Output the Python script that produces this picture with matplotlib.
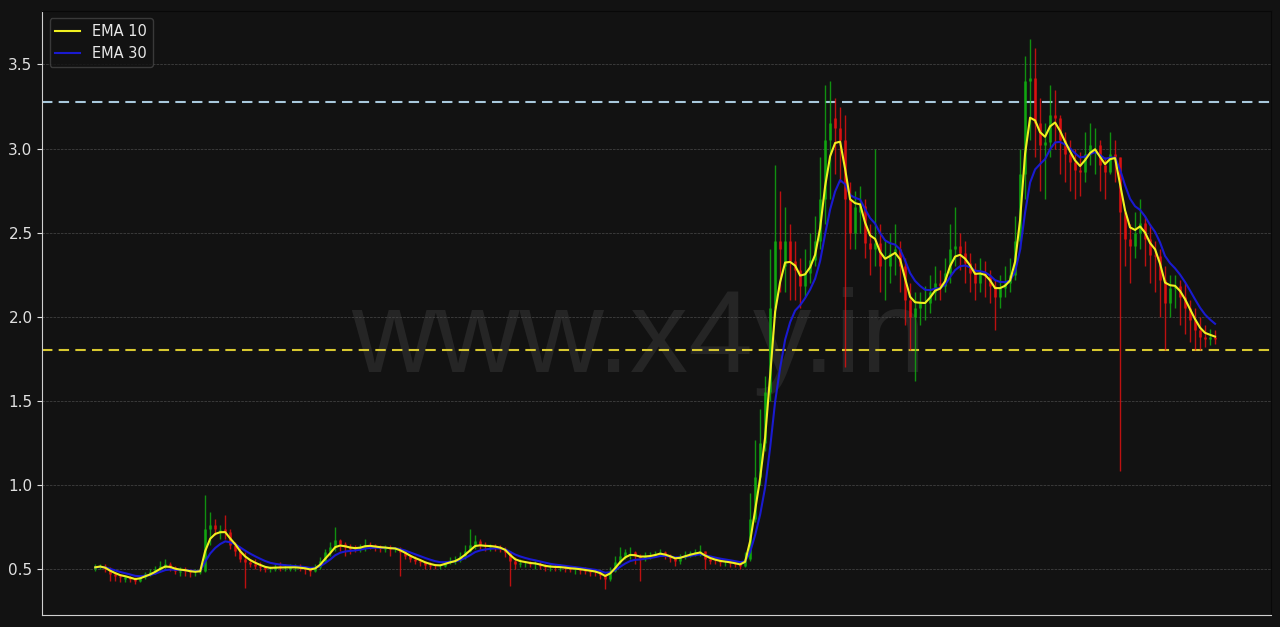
import pandas as pd
import matplotlib.pyplot as plt

# candle data (one bar per step)
closes = [0.51, 0.52, 0.50, 0.47, 0.46, 0.45, 0.45, 0.44, 0.43, 0.45,
          0.47, 0.48, 0.50, 0.52, 0.53, 0.51, 0.49, 0.49, 0.49, 0.48,
          0.48, 0.49, 0.74, 0.76, 0.74, 0.73, 0.72, 0.64, 0.61, 0.56,
          0.54, 0.53, 0.52, 0.51, 0.50, 0.50, 0.51, 0.51, 0.51, 0.51,
          0.51, 0.505, 0.50, 0.49, 0.51, 0.55, 0.60, 0.63, 0.67, 0.65,
          0.63, 0.62, 0.62, 0.63, 0.645, 0.64, 0.63, 0.625, 0.625, 0.62,
          0.62, 0.60, 0.58, 0.56, 0.55, 0.54, 0.525, 0.52, 0.515, 0.52,
          0.54, 0.55, 0.555, 0.58, 0.61, 0.64, 0.665, 0.645, 0.635, 0.635,
          0.63, 0.62, 0.60, 0.55, 0.53, 0.535, 0.535, 0.53, 0.53, 0.52,
          0.51, 0.51, 0.51, 0.51, 0.505, 0.50, 0.50, 0.495, 0.49, 0.485,
          0.48, 0.465, 0.44, 0.49, 0.54, 0.58, 0.60, 0.60, 0.58, 0.565,
          0.575, 0.58, 0.59, 0.60, 0.58, 0.565, 0.55, 0.57, 0.585, 0.595,
          0.60, 0.605, 0.56, 0.55, 0.545, 0.54, 0.54, 0.535, 0.528, 0.52,
          0.56, 0.80, 1.05, 1.25, 1.55, 2.05, 2.45, 2.40, 2.45, 2.33,
          2.28, 2.18, 2.26, 2.34, 2.45, 2.70, 3.05, 3.15, 3.12, 3.05,
          2.70, 2.50, 2.65, 2.66, 2.44, 2.40, 2.44, 2.30, 2.30, 2.38,
          2.40, 2.30, 2.10, 2.00, 2.05, 2.08, 2.08, 2.15, 2.20, 2.18,
          2.26, 2.40, 2.42, 2.38, 2.32, 2.26, 2.20, 2.26, 2.24, 2.18,
          2.12, 2.17, 2.20, 2.25, 2.45, 2.85, 3.40, 3.42, 3.15, 3.02,
          3.04, 3.20, 3.18, 3.05, 2.97, 2.92, 2.87, 2.86, 2.97, 3.02,
          3.02, 2.90, 2.86, 2.97, 2.95, 2.62, 2.46, 2.42, 2.50, 2.56,
          2.46, 2.37, 2.36, 2.22, 2.08, 2.17, 2.18, 2.12, 2.05, 1.98,
          1.92, 1.88, 1.87, 1.88, 1.87]

opens = [0.50, 0.51, 0.52, 0.50, 0.47, 0.46, 0.44, 0.45, 0.44, 0.43,
         0.45, 0.47, 0.48, 0.50, 0.51, 0.53, 0.51, 0.48, 0.50, 0.49,
         0.48, 0.48, 0.49, 0.74, 0.76, 0.72, 0.74, 0.72, 0.64, 0.61,
         0.56, 0.54, 0.53, 0.52, 0.51, 0.50, 0.50, 0.52, 0.51, 0.50,
         0.51, 0.51, 0.505, 0.50, 0.49, 0.51, 0.55, 0.60, 0.63, 0.67,
         0.65, 0.63, 0.63, 0.62, 0.63, 0.645, 0.64, 0.63, 0.62, 0.625,
         0.62, 0.62, 0.60, 0.58, 0.56, 0.55, 0.54, 0.525, 0.52, 0.515,
         0.52, 0.54, 0.55, 0.555, 0.58, 0.61, 0.64, 0.665, 0.645, 0.63,
         0.635, 0.63, 0.62, 0.60, 0.55, 0.53, 0.535, 0.535, 0.53, 0.53,
         0.52, 0.51, 0.515, 0.51, 0.51, 0.505, 0.50, 0.50, 0.495, 0.49,
         0.485, 0.48, 0.465, 0.44, 0.49, 0.54, 0.58, 0.60, 0.60, 0.58,
         0.565, 0.575, 0.58, 0.59, 0.60, 0.58, 0.565, 0.55, 0.57, 0.585,
         0.595, 0.60, 0.605, 0.56, 0.55, 0.545, 0.54, 0.54, 0.535, 0.528,
         0.52, 0.56, 0.80, 1.05, 1.25, 1.55, 2.05, 2.45, 2.30, 2.45,
         2.33, 2.28, 2.18, 2.26, 2.34, 2.45, 2.70, 3.05, 3.18, 3.12,
         3.05, 2.70, 2.50, 2.62, 2.66, 2.44, 2.40, 2.44, 2.30, 2.30,
         2.38, 2.40, 2.30, 2.10, 2.00, 2.05, 2.08, 2.08, 2.15, 2.20,
         2.18, 2.26, 2.40, 2.42, 2.38, 2.32, 2.26, 2.20, 2.26, 2.24,
         2.18, 2.12, 2.17, 2.20, 2.25, 2.45, 2.85, 3.40, 3.42, 3.15,
         3.02, 3.04, 3.20, 3.18, 3.05, 2.97, 2.92, 2.87, 2.86, 2.97,
         3.02, 3.02, 2.90, 2.86, 2.97, 2.95, 2.62, 2.46, 2.42, 2.50,
         2.56, 2.46, 2.37, 2.36, 2.22, 2.08, 2.17, 2.18, 2.12, 2.05,
         1.98, 1.92, 1.88, 1.87, 1.88]

highs = [0.53, 0.53, 0.53, 0.51, 0.48, 0.47, 0.46, 0.46, 0.45, 0.46,
         0.48, 0.50, 0.52, 0.55, 0.56, 0.54, 0.52, 0.51, 0.51, 0.50,
         0.50, 0.50, 0.94, 0.84, 0.80, 0.76, 0.82, 0.74, 0.66, 0.63,
         0.60, 0.56, 0.56, 0.54, 0.52, 0.52, 0.53, 0.54, 0.53, 0.53,
         0.53, 0.53, 0.52, 0.51, 0.53, 0.57, 0.62, 0.66, 0.75, 0.68,
         0.66, 0.65, 0.64, 0.65, 0.68, 0.66, 0.65, 0.64, 0.64, 0.64,
         0.63, 0.63, 0.61, 0.59, 0.58, 0.56, 0.55, 0.54, 0.53, 0.53,
         0.55, 0.57, 0.58, 0.60, 0.64, 0.74, 0.70, 0.68, 0.66, 0.65,
         0.65, 0.64, 0.63, 0.61, 0.57, 0.56, 0.55, 0.55, 0.55, 0.54,
         0.53, 0.53, 0.53, 0.53, 0.52, 0.52, 0.52, 0.51, 0.51, 0.50,
         0.50, 0.49, 0.47, 0.51, 0.58, 0.63, 0.62, 0.63, 0.61, 0.59,
         0.60, 0.60, 0.61, 0.62, 0.61, 0.59, 0.57, 0.59, 0.61, 0.61,
         0.62, 0.64, 0.61, 0.57, 0.56, 0.56, 0.55, 0.55, 0.54, 0.54,
         0.60, 0.95, 1.27, 1.45, 1.65, 2.40, 2.90, 2.75, 2.65, 2.55,
         2.45, 2.35, 2.40, 2.50, 2.60, 2.95, 3.38, 3.40, 3.30, 3.25,
         3.20, 2.80, 2.75, 2.78, 2.70, 2.55, 3.00, 2.55, 2.45, 2.50,
         2.55, 2.45, 2.35, 2.20, 2.15, 2.15, 2.18, 2.25, 2.30, 2.28,
         2.35, 2.55, 2.65, 2.50, 2.45, 2.38, 2.32, 2.35, 2.33, 2.28,
         2.22, 2.25, 2.30, 2.35, 2.60, 3.00, 3.55, 3.65, 3.60, 3.30,
         3.15, 3.38, 3.35, 3.20, 3.10, 3.05, 3.00, 2.98, 3.10, 3.15,
         3.12, 3.05, 2.95, 3.10, 3.05, 2.95, 2.60, 2.55, 2.62, 2.70,
         2.60, 2.55, 2.45, 2.40, 2.30, 2.25, 2.25, 2.22, 2.20, 2.10,
         2.05, 2.00, 1.95, 1.93, 1.92]

lows = [0.49, 0.50, 0.48, 0.43, 0.43, 0.42, 0.42, 0.42, 0.41, 0.42,
        0.44, 0.46, 0.47, 0.49, 0.50, 0.49, 0.47, 0.46, 0.46, 0.45,
        0.46, 0.47, 0.48, 0.64, 0.70, 0.68, 0.68, 0.62, 0.58, 0.54,
        0.39, 0.51, 0.50, 0.49, 0.48, 0.48, 0.49, 0.49, 0.49, 0.49,
        0.49, 0.49, 0.47, 0.46, 0.48, 0.50, 0.54, 0.58, 0.61, 0.61,
        0.58, 0.59, 0.60, 0.60, 0.61, 0.62, 0.61, 0.60, 0.60, 0.58,
        0.60, 0.46, 0.56, 0.54, 0.53, 0.52, 0.50, 0.50, 0.50, 0.50,
        0.51, 0.53, 0.53, 0.54, 0.56, 0.60, 0.62, 0.62, 0.61, 0.61,
        0.61, 0.60, 0.57, 0.40, 0.50, 0.51, 0.51, 0.51, 0.50, 0.50,
        0.49, 0.49, 0.49, 0.49, 0.48, 0.48, 0.47, 0.47, 0.47, 0.46,
        0.46, 0.44, 0.38, 0.43, 0.48, 0.53, 0.56, 0.56, 0.53, 0.43,
        0.55, 0.56, 0.57, 0.58, 0.56, 0.54, 0.52, 0.53, 0.56, 0.57,
        0.58, 0.58, 0.50, 0.53, 0.53, 0.52, 0.52, 0.51, 0.51, 0.50,
        0.51, 0.55, 0.78, 1.00, 1.20, 1.50, 2.00, 2.15, 2.15, 2.10,
        2.10, 2.05, 2.12, 2.20, 2.30, 2.40, 2.55, 2.70, 2.85, 2.80,
        1.70, 2.40, 2.40, 2.50, 2.35, 2.25, 2.30, 2.15, 2.10, 2.20,
        2.25, 2.15, 1.95, 1.80, 1.62, 1.95, 1.98, 2.02, 2.10, 2.10,
        2.15, 2.20, 2.30, 2.28, 2.20, 2.15, 2.10, 2.15, 2.12, 2.08,
        1.92, 2.05, 2.12, 2.15, 2.22, 2.40, 2.70, 3.05, 2.95, 2.75,
        2.70, 2.95, 3.00, 2.85, 2.80, 2.75, 2.70, 2.72, 2.80, 2.90,
        2.85, 2.75, 2.70, 2.85, 2.80, 1.08, 2.30, 2.20, 2.35, 2.40,
        2.30, 2.20, 2.15, 2.00, 1.80, 2.00, 2.05, 1.95, 1.90, 1.85,
        1.80, 1.80, 1.82, 1.83, 1.84]

resistance = 3.275
support = 1.80

df = pd.DataFrame({'Open': opens, 'High': highs, 'Low': lows, 'Close': closes})
# each drawn bar covers ~3 sessions, so the EMA spans are scaled to match
df['EMA10'] = df['Close'].ewm(span=3.2, adjust=False).mean()
df['EMA30'] = df['Close'].ewm(span=8, adjust=False).mean()

bg = '#121212'
fig = plt.figure(figsize=(12.8, 6.27), dpi=100, facecolor=bg)
ax = fig.add_axes([0.033, 0.019, 0.96, 0.964], facecolor=bg)

ax.text(0.485, 0.402, 'www.x4y.in', transform=ax.transAxes, fontsize=84,
        family='Liberation Sans', color='#252525', ha='center', va='baseline', zorder=0)

up = df['Close'] >= df['Open']
colors = ['#10b010' if u else '#e81010' for u in up]
ax.vlines(df.index, df['Low'], df['High'], colors=colors, linewidth=1, alpha=0.8, zorder=2)
ax.vlines(df.index, df[['Open', 'Close']].min(axis=1), df[['Open', 'Close']].max(axis=1),
          colors=colors, linewidth=2.2, alpha=0.7, zorder=2)

ax.plot(df.index, df['EMA10'], color='#f0f020', linewidth=1.5, label='EMA 10', zorder=4)
ax.plot(df.index, df['EMA30'], color='#1a1ad0', linewidth=1.5, label='EMA 30', zorder=3)

ax.axhline(resistance, color='#a8c8dc', linestyle=(0, (5, 3)), linewidth=1.5, zorder=1)
ax.axhline(support, color='#d8c830', linestyle=(0, (5, 3)), linewidth=1.5, zorder=1)

ax.set_xlim(-10.6, 235.2)
ax.set_ylim(0.226, 3.82)
ax.set_yticks([0.5, 1.0, 1.5, 2.0, 2.5, 3.0, 3.5])
ax.set_xticks([])
ax.grid(axis='y', color='#4a4a4a', linestyle='--', linewidth=0.5)
ax.tick_params(axis='y', colors='#e0e0e0', labelsize=11)
for side in ['left', 'bottom']:
    ax.spines[side].set_color('#d0d0d0')
for side in ['top', 'right']:
    ax.spines[side].set_color('#080808')

leg = ax.legend(loc='upper left', facecolor=bg, edgecolor='#444444', fontsize=10.5,
                handlelength=1.7)
for t in leg.get_texts():
    t.set_color('#e8e8e8')

plt.savefig('out.png', dpi=100, facecolor=bg)
